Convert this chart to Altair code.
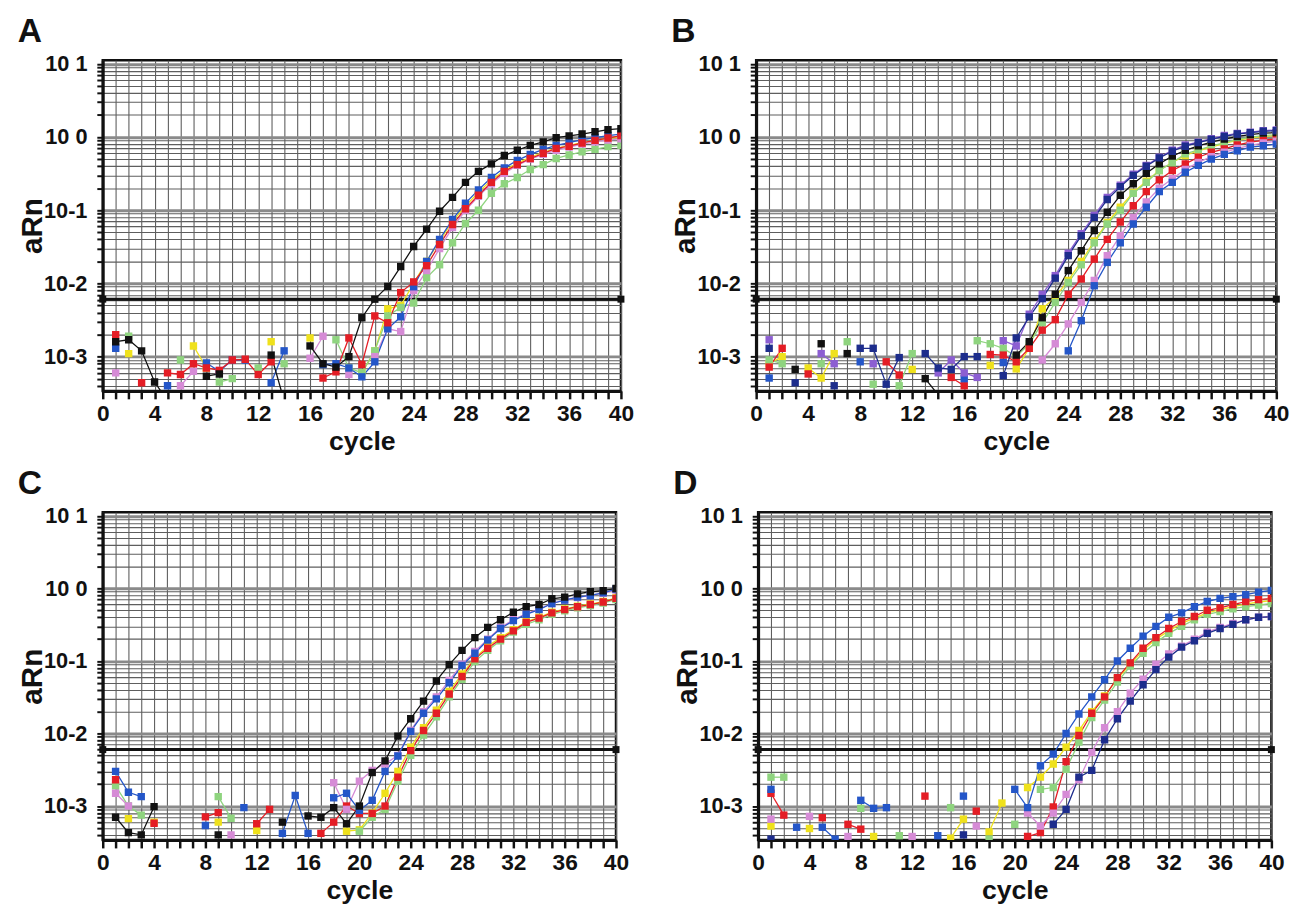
import altair as alt
import pandas as pd

N = None
CYCLES = list(range(1, 41))

# ---------------- Panel A ----------------
A_black = [1.6e-3, 1.7e-3, 1.2e-3, 4.5e-4, 2.5e-4, N, N, 5.4e-4, 5.8e-4, N,
           N, N, 1.05e-3, 2.5e-4, N, 1.4e-3, 8.0e-4, 7.2e-4, 1.0e-3, 3.4e-3,
           6.1e-3, 9.1e-3, 0.017, 0.032, 0.055, 0.097, 0.15, 0.24, 0.34, 0.43,
           0.56, 0.66, 0.77, 0.86, 0.98, 1.04, 1.10, 1.18, 1.26, 1.30]
A_blue = [1.3e-3, N, N, N, 4.0e-4, N, N, 8.2e-4, 6.3e-4, 9.0e-4,
          9.0e-4, N, 4.4e-4, 1.2e-3, N, N, 7.8e-4, 8.0e-4, 7.0e-4, 5.3e-4,
          8.5e-4, 2.4e-3, 3.5e-3, 9.0e-3, 0.020, 0.040, 0.075, 0.125, 0.19, 0.28,
          0.38, 0.48, 0.58, 0.68, 0.77, 0.84, 0.92, 0.98, 1.05, 1.10]
A_red = [2.0e-3, N, 4.4e-4, N, 6.0e-4, 5.7e-4, 8.0e-4, 7.0e-4, 6.5e-4, 9.0e-4,
         9.2e-4, 5.7e-4, 8.5e-4, N, N, N, 5.1e-4, 6.2e-4, 1.8e-3, 7.8e-4,
         3.6e-3, 2.9e-3, 7.5e-3, 0.0105, 0.0175, 0.034, 0.064, 0.105, 0.16, 0.24,
         0.34, 0.42, 0.51, 0.60, 0.70, 0.75, 0.83, 0.90, 0.97, 1.05]
A_green = [N, 1.9e-3, N, N, N, 9.0e-4, N, N, 4.5e-4, 5.0e-4,
           N, 7.0e-4, N, 8.0e-4, N, N, N, 1.7e-3, 7.0e-4, 6.0e-4,
           1.2e-3, 3.6e-3, 4.7e-3, 5.4e-3, 0.012, 0.018, 0.036, 0.066, 0.10, 0.17,
           0.23, 0.28, 0.36, 0.42, 0.51, 0.57, 0.63, 0.68, 0.74, 0.77]
A_yellow = [N, 1.1e-3, N, N, N, N, 1.4e-3, 7.0e-4, N, N,
            N, N, 1.6e-3, N, N, 1.8e-3, N, N, N, 6.0e-4,
            1.2e-3, 4.5e-3, 5.0e-3, 0.010, 0.020, 0.038, 0.070, 0.115, 0.175, 0.26,
            0.35, 0.44, 0.53, 0.62, 0.70, 0.77, 0.84, 0.90, 0.95, 1.00]
A_pink = [6.0e-4, N, N, N, N, 4.0e-4, 6.3e-4, N, 6.5e-4, N,
          N, N, N, N, N, 9.5e-4, 1.9e-3, N, 5.7e-4, N,
          1.0e-3, 2.4e-3, 2.2e-3, 8.0e-3, 0.015, 0.030, 0.058, 0.10, 0.155, 0.23,
          0.32, 0.41, 0.50, 0.58, 0.66, 0.73, 0.80, 0.86, 0.91, 0.95]

# ---------------- Panel B ----------------
B_purple = [1.7e-3, N, N, N, 1.1e-3, 8.0e-4, N, N, 8.0e-4, N,
            N, N, N, 6.0e-4, 9.0e-4, 6.0e-4, 5.2e-4, N, 1.65e-3, 1.4e-3,
            3.8e-3, 7.1e-3, 0.0128, 0.026, 0.048, 0.085, 0.15, 0.22, 0.31, 0.41,
            0.53, 0.66, 0.78, 0.85, 0.95, 1.05, 1.12, 1.17, 1.22, 1.25]
B_navy = [1.3e-3, N, 4.4e-4, N, N, 4.0e-4, N, 1.3e-3, 1.3e-3, 4.2e-4,
          9.7e-4, N, 1.1e-3, 7.0e-4, 6.7e-4, 1.0e-3, 1.0e-3, N, 5.5e-4, 1.8e-3,
          3.5e-3, 6.2e-3, 0.0118, 0.024, 0.045, 0.080, 0.14, 0.21, 0.30, 0.40,
          0.52, 0.64, 0.75, 0.84, 0.93, 1.02, 1.10, 1.15, 1.20, 1.22]
B_black = [N, N, 6.7e-4, N, 1.5e-3, N, 1.1e-3, N, N, N,
           N, N, 5.0e-4, 3.0e-4, N, N, N, N, N, 1.05e-3,
           1.6e-3, 3.4e-3, 7.1e-3, 0.015, 0.028, 0.053, 0.094, 0.16, 0.23, 0.32,
           0.43, 0.55, 0.66, 0.76, 0.85, 0.94, 1.02, 1.08, 1.13, 1.15]
B_green = [9.0e-4, 8.0e-4, N, N, 8.0e-4, N, 1.6e-3, N, 4.2e-4, N,
           4.0e-4, 1.1e-3, N, N, N, N, 1.65e-3, 1.5e-3, 1.3e-3, 1.0e-3,
           1.5e-3, 2.9e-3, 5.5e-3, 0.0103, 0.018, 0.036, 0.065, 0.10, 0.17, 0.24,
           0.35, 0.45, 0.59, 0.67, 0.75, 0.84, 0.92, 1.00, 1.05, 1.08]
B_yellow = [8.0e-4, 1.0e-3, N, 7.0e-4, 5.1e-4, 1.1e-3, N, N, N, N,
            N, 6.7e-4, N, N, N, N, N, 7.6e-4, N, 6.8e-4,
            1.3e-3, 4.5e-3, 6.5e-3, 0.011, 0.020, 0.038, 0.068, 0.11, 0.175, 0.25,
            0.35, 0.45, 0.56, 0.65, 0.73, 0.82, 0.90, 0.97, 1.02, 1.05]
B_red = [7.2e-4, 1.3e-3, N, 5.8e-4, N, N, N, N, N, 8.5e-4,
         5.6e-4, N, N, N, 5.2e-4, 4.0e-4, N, 1.07e-3, 1.05e-3, 8.5e-4,
         1.3e-3, 2.3e-3, 3.2e-3, 7.1e-3, 0.0115, 0.0215, 0.040, 0.069, 0.115, 0.18,
         0.26, 0.35, 0.43, 0.53, 0.62, 0.69, 0.78, 0.85, 0.90, 0.95]
B_pink = [N, N, N, N, N, N, N, N, N, N,
          N, N, N, N, N, N, N, N, N, N,
          N, 9.0e-4, 1.5e-3, 2.8e-3, 5.5e-3, 0.011, 0.024, 0.045, 0.080, 0.13,
          0.20, 0.27, 0.36, 0.45, 0.54, 0.62, 0.70, 0.77, 0.83, 0.88]
B_blue = [5.1e-4, N, N, N, N, N, N, 8.5e-4, N, N,
          N, N, N, N, N, 5.0e-4, N, N, 8.3e-4, N,
          N, N, N, 1.2e-3, 3.1e-3, 9.3e-3, 0.0194, 0.036, 0.065, 0.11,
          0.18, 0.24, 0.33, 0.41, 0.50, 0.58, 0.65, 0.73, 0.76, 0.80]

# ---------------- Panel C ----------------
C_black = [7.0e-4, 4.3e-4, 4.0e-4, 9.8e-4, N, N, N, N, 4.0e-4, N,
           N, N, N, 6.0e-4, N, 7.3e-4, 7.0e-4, 9.5e-4, 5.7e-4, 1.0e-3,
           2.9e-3, 4.2e-3, 9.2e-3, 0.016, 0.028, 0.053, 0.089, 0.14, 0.21, 0.29,
           0.37, 0.47, 0.56, 0.60, 0.72, 0.76, 0.84, 0.90, 0.93, 1.00]
C_blue = [3.0e-3, 1.55e-3, 1.35e-3, N, N, N, N, 5.4e-4, N, N,
          9.5e-4, N, N, 4.2e-4, 1.4e-3, 4.2e-4, N, 1.3e-3, 1.5e-3, 8.7e-4,
          1.2e-3, 3.0e-3, 4.9e-3, 0.0107, 0.019, 0.030, 0.050, 0.087, 0.128, 0.195,
          0.28, 0.36, 0.44, 0.51, 0.62, 0.69, 0.76, 0.80, 0.87, 0.98]
C_pink = [1.5e-3, 1.0e-3, N, N, N, N, N, N, N, 4.0e-4,
          N, N, N, N, N, N, N, 2.1e-3, 9.0e-4, 2.2e-3,
          3.1e-3, 3.8e-3, 5.0e-3, 0.011, 0.020, 0.032, 0.054, 0.090, 0.135, 0.20,
          0.29, 0.37, 0.45, 0.52, 0.62, 0.69, 0.75, 0.80, 0.86, 0.95]
C_red = [2.3e-3, N, N, 5.8e-4, N, N, N, 7.1e-4, 8.1e-4, N,
         N, 5.7e-4, 9.0e-4, N, N, N, 4.2e-4, 6.0e-4, 1.0e-3, 7.9e-4,
         7.9e-4, 1.0e-3, 2.5e-3, 5.8e-3, 0.011, 0.019, 0.035, 0.061, 0.107, 0.15,
         0.20, 0.26, 0.34, 0.39, 0.46, 0.51, 0.56, 0.60, 0.65, 0.73]
C_green = [1.9e-3, 1.0e-3, 7.5e-4, N, N, N, N, N, 1.35e-3, 6.8e-4,
           N, N, N, N, N, N, N, N, N, 4.5e-4,
           7.0e-4, 9.0e-4, 2.2e-3, 5.0e-3, 9.5e-3, 0.017, 0.032, 0.056, 0.098, 0.14,
           0.19, 0.25, 0.32, 0.37, 0.44, 0.49, 0.54, 0.58, 0.63, 0.70]
C_yellow = [N, 6.7e-4, N, 6.0e-4, N, N, N, N, 6.0e-4, N,
            N, 4.6e-4, N, N, N, N, N, N, 4.5e-4, 4.7e-4,
            8.0e-4, 1.5e-3, 3.0e-3, 6.5e-3, 0.012, 0.021, 0.038, 0.066, 0.11, 0.16,
            0.21, 0.27, 0.35, 0.40, 0.47, 0.52, 0.57, 0.61, 0.66, 0.74]

# ---------------- Panel D ----------------
D_blue = [1.7e-3, N, 5.1e-4, N, 5.1e-4, 3.5e-4, N, 1.2e-3, 9.3e-4, 9.5e-4,
          N, N, N, 3.9e-4, N, 1.37e-3, N, N, N, 1.7e-3,
          9.5e-4, 3.6e-3, 5.2e-3, 0.010, 0.0186, 0.032, 0.055, 0.10, 0.15, 0.22,
          0.30, 0.40, 0.46, 0.56, 0.66, 0.73, 0.77, 0.82, 0.89, 0.94]
D_red = [1.5e-3, 7.5e-4, N, N, 6.9e-4, N, 5.6e-4, 4.8e-4, N, N,
         N, N, 1.37e-3, N, N, N, 8.5e-4, N, N, N,
         3.8e-4, 4.3e-4, 9.7e-4, 4.1e-3, 9.4e-3, 0.019, 0.032, 0.059, 0.094, 0.15,
         0.21, 0.28, 0.35, 0.41, 0.50, 0.54, 0.60, 0.66, 0.70, 0.73]
D_green = [2.5e-3, 2.5e-3, N, N, N, N, N, 9.3e-4, N, N,
           3.9e-4, N, N, N, 9.5e-4, N, N, 3.5e-4, N, 5.6e-4,
           N, 1.7e-3, 1.8e-3, 3.2e-3, 7.6e-3, 0.0166, 0.029, 0.051, 0.085, 0.128,
           0.18, 0.24, 0.30, 0.37, 0.44, 0.48, 0.525, 0.56, 0.59, 0.62]
D_yellow = [5.3e-4, N, N, 4.9e-4, N, N, N, N, 3.8e-4, N,
            N, N, N, N, 3.6e-4, 6.6e-4, N, 4.4e-4, 1.1e-3, N,
            1.8e-3, 2.5e-3, 3.8e-3, 6.5e-3, 0.011, 0.020, 0.033, 0.057, 0.090, 0.14,
            0.20, 0.26, 0.33, 0.39, 0.46, 0.51, 0.56, 0.61, 0.65, 0.68]
D_pink = [6.6e-4, N, N, 7.2e-4, N, N, 3.8e-4, N, N, N,
          N, 3.8e-4, N, N, N, N, 5.3e-4, N, N, N,
          8.0e-4, 5.3e-4, 8.0e-4, 1.45e-3, 2.3e-3, 5.5e-3, 0.012, 0.020, 0.036, 0.056,
          0.090, 0.125, 0.16, 0.20, 0.25, 0.29, 0.33, 0.37, 0.40, 0.41]
D_navy = [3.5e-4, N, N, N, N, N, N, N, N, N,
          N, N, N, N, N, 4.0e-4, N, N, N, N,
          N, N, 5.6e-4, 9.0e-4, 2.5e-3, 3.1e-3, 8.2e-3, 0.016, 0.028, 0.047,
          0.076, 0.113, 0.155, 0.19, 0.24, 0.28, 0.32, 0.37, 0.40, 0.41]

THRESHOLDS = {"A": 0.0061, "B": 0.0061, "C": 0.0060, "D": 0.0060}

SERIES_NAMES = ["black", "blue", "navy", "red", "green", "yellow", "pink", "purple"]
SERIES_COLORS = ["#111111", "#2456c8", "#1d2d8c", "#e41d25", "#8fd47f", "#efe11c", "#d68bd6", "#8c5ed2"]

PANELS = [
    dict(letter="A", width=525, height=335,
         series=[("yellow", A_yellow), ("green", A_green), ("pink", A_pink),
                 ("blue", A_blue), ("red", A_red), ("black", A_black)]),
    dict(letter="B", width=527, height=335,
         series=[("yellow", B_yellow), ("green", B_green), ("red", B_red), ("pink", B_pink),
                 ("blue", B_blue), ("black", B_black), ("purple", B_purple), ("navy", B_navy)]),
    dict(letter="C", width=520, height=332,
         series=[("yellow", C_yellow), ("green", C_green), ("red", C_red),
                 ("pink", C_pink), ("blue", C_blue), ("black", C_black)]),
    dict(letter="D", width=520, height=332,
         series=[("yellow", D_yellow), ("green", D_green), ("red", D_red),
                 ("pink", D_pink), ("navy", D_navy), ("blue", D_blue)]),
]

Y_MIN, Y_MAX = 3.4e-4, 11.2
Y_TICKS = [round(k * 10.0 ** e, 10) for e in range(-4, 2) for k in range(1, 10)
           if Y_MIN <= k * 10.0 ** e <= Y_MAX]

NARROW = "Liberation Sans Narrow, Arial Narrow, Liberation Sans, Arial, sans-serif"
SANS = "Liberation Sans, Arial, Helvetica, sans-serif"

LG = "(log(datum.value) / LN10)"
DEC = f"abs({LG} - round({LG})) < 0.01"
Y_LABEL = f"{DEC} ? (round({LG}) >= 0 ? '10 ' + round({LG}) : '10' + round({LG})) : ''"


def make_df(series):
    rows = []
    for name, vals in series:
        seg = 0
        for c, v in zip(CYCLES, vals):
            if v is None:
                seg += 1
                continue
            rows.append(dict(cycle=c, aRn=v, series=name, seg=f"{name}-{seg}"))
    return pd.DataFrame(rows)


x_axis = alt.Axis(
    values=list(range(0, 41)),
    labelExpr="datum.value % 4 == 0 ? '' + datum.value : ''",
    labelFlush=False, labelOverlap=False,
    tickSize=8, tickWidth=2.5, tickColor="#111",
    domainColor="#111", domainWidth=3,
    grid=True, gridColor="#5e5e5e", gridWidth=1.1,
    labelFont=NARROW, labelFontSize=23, labelFontWeight="bold", labelColor="#111",
    labelPadding=4,
    title="cycle", titleFont=SANS, titleFontSize=27, titleFontWeight="bold",
    titleColor="#111", titlePadding=3,
)


def make_y_axis(height):
    return alt.Axis(
        values=Y_TICKS, labelExpr=Y_LABEL, labelOverlap=False, labelFlush=False,
        tickSize=6, tickWidth=2, tickColor="#111",
        domainColor="#111", domainWidth=3,
        grid=True,
        gridColor={"condition": {"test": DEC, "value": "#8a8a8a"}, "value": "#5e5e5e"},
        gridWidth={"condition": {"test": DEC, "value": 3}, "value": 1.1},
        labelFont=NARROW, labelFontSize=22, labelFontWeight="bold", labelColor="#111",
        labelPadding=10,
        title="aRn", titleFont=SANS, titleFontSize=30, titleFontWeight="bold",
        titleColor="#111", titleX=-56, titleY=height / 2,
    )


def panel(p):
    df = make_df(p["series"])
    thr = THRESHOLDS[p["letter"]]
    x = alt.X("cycle:Q", scale=alt.Scale(domain=[0, 40], nice=False, zero=False), axis=x_axis)
    y = alt.Y("aRn:Q", scale=alt.Scale(type="log", domain=[Y_MIN, Y_MAX], nice=False),
              axis=make_y_axis(p["height"]))
    color = alt.Color("series:N", scale=alt.Scale(domain=SERIES_NAMES, range=SERIES_COLORS),
                      legend=None)
    base = alt.Chart(df)
    lines = base.mark_line(strokeWidth=1.3, clip=True).encode(
        x=x, y=y, color=color, detail="seg:N", order="cycle:Q")
    pts = base.mark_square(size=56, opacity=1, clip=True).encode(x=x, y=y, color=color)
    rule = alt.Chart(pd.DataFrame({"aRn": [thr]})).mark_rule(
        color="#111", strokeWidth=3).encode(y=y)
    ends = alt.Chart(pd.DataFrame({"cycle": [0, 40], "aRn": [thr, thr]})).mark_square(
        size=50, color="#111", opacity=1).encode(x=x, y=y)
    return alt.layer(rule, lines, pts, ends).properties(
        width=p["width"], height=p["height"],
        title=alt.TitleParams(p["letter"], anchor="start", frame="bounds", font=SANS,
                              fontSize=34, fontWeight="bold", color="#111", offset=4),
    )


pA, pB, pC, pD = [panel(p) for p in PANELS]
row1 = alt.hconcat(pA, pB, spacing=137, bounds="flush")
row2 = alt.hconcat(pC, pD, spacing=144, bounds="flush")
chart = alt.vconcat(row1, row2, spacing=10).properties(
    padding={"left": 8, "top": 0, "right": 10, "bottom": 4},
    background="white",
).configure_view(stroke="#111", strokeWidth=2.5)

chart.save("out.html", embed_options={"renderer": "svg", "actions": False})
